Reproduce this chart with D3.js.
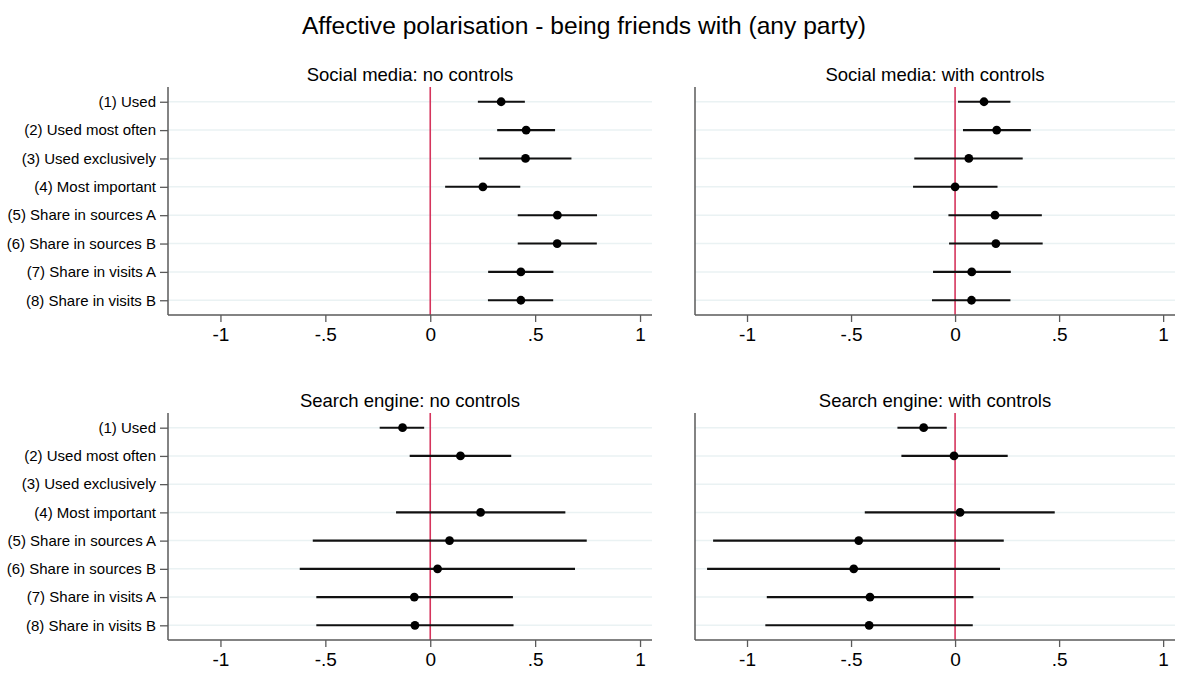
<!DOCTYPE html>
<meta charset="utf-8">
<script src="https://d3js.org/d3.v7.min.js"></script>
<body style="margin:0;background:#fff">
<div id="chart"></div>
<script>
// row labels (top to bottom)
var labels = ["(1) Used", "(2) Used most often", "(3) Used exclusively", "(4) Most important",
  "(5) Share in sources A", "(6) Share in sources B", "(7) Share in visits A", "(8) Share in visits B"];
var xTicks = [-1, -0.5, 0, 0.5, 1];
var xTickLabels = ["-1", "-.5", "0", ".5", "1"];

// point estimates and 95% CI bounds, null = not estimated
var socialNoCtrl = [0.338, 0.457, 0.454, 0.251, 0.606, 0.605, 0.432, 0.432];
var socialNoCtrlLo = [0.227, 0.319, 0.233, 0.071, 0.417, 0.417, 0.276, 0.275];
var socialNoCtrlHi = [0.451, 0.595, 0.673, 0.429, 0.795, 0.794, 0.587, 0.586];

var socialCtrl = [0.139, 0.200, 0.066, 0.000, 0.192, 0.196, 0.080, 0.079];
var socialCtrlLo = [0.014, 0.038, -0.196, -0.202, -0.032, -0.029, -0.106, -0.111];
var socialCtrlHi = [0.266, 0.364, 0.325, 0.204, 0.417, 0.421, 0.268, 0.266];

var searchNoCtrl = [-0.132, 0.144, null, 0.240, 0.092, 0.035, -0.076, -0.073];
var searchNoCtrlLo = [-0.241, -0.098, null, -0.163, -0.560, -0.622, -0.543, -0.543];
var searchNoCtrlHi = [-0.029, 0.386, null, 0.644, 0.746, 0.690, 0.394, 0.397];

var searchCtrl = [-0.151, -0.005, null, 0.024, -0.463, -0.487, -0.409, -0.413];
var searchCtrlLo = [-0.277, -0.258, null, -0.434, -1.163, -1.192, -0.905, -0.912];
var searchCtrlHi = [-0.040, 0.253, null, 0.479, 0.234, 0.216, 0.088, 0.085];

var W = 1186, H = 673;
var svg = d3.select("#chart").append("svg")
  .attr("width", W).attr("height", H)
  .style("font-family", "'Liberation Sans', Arial, sans-serif");

svg.append("text")
  .attr("x", 584).attr("y", 34)
  .attr("text-anchor", "middle")
  .attr("font-size", "24.6px")
  .attr("fill", "#000")
  .text("Affective polarisation - being friends with (any party)");

var panels = [
  {title: "Social media: no controls", est: socialNoCtrl, lo: socialNoCtrlLo, hi: socialNoCtrlHi, x0: 168, x1: 652, y0: 87, y1: 315, ylab: true},
  {title: "Social media: with controls", est: socialCtrl, lo: socialCtrlLo, hi: socialCtrlHi, x0: 695, x1: 1175, y0: 87, y1: 315, ylab: false},
  {title: "Search engine: no controls", est: searchNoCtrl, lo: searchNoCtrlLo, hi: searchNoCtrlHi, x0: 168, x1: 652, y0: 413, y1: 640, ylab: true},
  {title: "Search engine: with controls", est: searchCtrl, lo: searchCtrlLo, hi: searchCtrlHi, x0: 695, x1: 1175, y0: 413, y1: 640, ylab: false}
];

panels.forEach(function(p) {
  var x = d3.scaleLinear().domain([-1.25, 1.057]).range([p.x0, p.x1]);
  var y = d3.scaleLinear().domain([0.48, 8.52]).range([p.y0, p.y1]);
  var rows = d3.range(labels.length);
  var g = svg.append("g");

  // gridlines
  g.selectAll(".grid").data(rows).enter().append("line")
    .attr("x1", p.x0).attr("x2", p.x1)
    .attr("y1", function(i) { return y(i + 1); })
    .attr("y2", function(i) { return y(i + 1); })
    .attr("stroke", "#eaf2f3").attr("stroke-width", 1.5);

  // zero line
  g.append("line")
    .attr("x1", x(0)).attr("x2", x(0))
    .attr("y1", p.y0).attr("y2", p.y1)
    .attr("stroke", "#d5345c").attr("stroke-width", 1.6);

  // x axis
  var xAxis = g.append("g")
    .attr("transform", "translate(0," + p.y1 + ")")
    .call(d3.axisBottom(x).tickValues(xTicks).tickSize(7).tickPadding(6)
      .tickFormat(function(d, i) { return xTickLabels[i]; }));
  xAxis.select(".domain").attr("stroke", "#5a5a5a").attr("stroke-width", 1.5)
    .attr("d", "M" + p.x0 + ",0H" + p.x1);
  xAxis.selectAll(".tick line").attr("stroke", "#5a5a5a").attr("stroke-width", 1.3);
  xAxis.selectAll(".tick text").attr("font-size", "19px").attr("fill", "#000")
    .attr("font-family", "'Liberation Sans', Arial, sans-serif");

  // y axis
  var yAxis = g.append("g")
    .attr("transform", "translate(" + p.x0 + ",0)")
    .call(d3.axisLeft(y).tickValues(p.ylab ? d3.range(1, 9) : []).tickSize(8).tickPadding(4)
      .tickFormat(function(d) { return labels[d - 1]; }));
  yAxis.select(".domain").attr("stroke", "#5a5a5a").attr("stroke-width", 1.5)
    .attr("d", "M0," + p.y0 + "V" + p.y1);
  yAxis.selectAll(".tick line").attr("stroke", "#5a5a5a").attr("stroke-width", 1.3);
  yAxis.selectAll(".tick text").attr("font-size", "15px").attr("fill", "#000")
    .attr("font-family", "'Liberation Sans', Arial, sans-serif");

  // panel title
  svg.append("text")
    .attr("x", (p.x0 + p.x1) / 2).attr("y", p.y0 - 6)
    .attr("text-anchor", "middle")
    .attr("font-size", "18.5px")
    .attr("fill", "#000")
    .text(p.title);

  var pts = rows.filter(function(i) { return p.est[i] !== null; });

  // confidence intervals
  g.selectAll(".ci").data(pts).enter().append("line")
    .attr("x1", function(i) { return x(p.lo[i]); })
    .attr("x2", function(i) { return x(p.hi[i]); })
    .attr("y1", function(i) { return y(i + 1); })
    .attr("y2", function(i) { return y(i + 1); })
    .attr("stroke", "#111").attr("stroke-width", 2.1);

  // point estimates
  g.selectAll(".pt").data(pts).enter().append("circle")
    .attr("cx", function(i) { return x(p.est[i]); })
    .attr("cy", function(i) { return y(i + 1); })
    .attr("r", 4.4)
    .attr("fill", "#000");
});
</script>
</body>
